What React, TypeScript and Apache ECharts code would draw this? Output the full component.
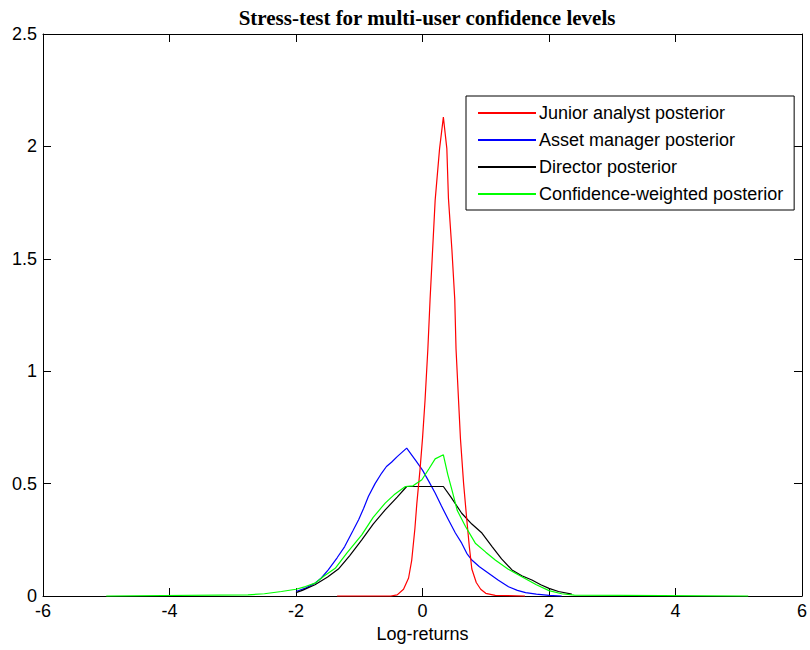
import React, { useEffect, useRef } from "react";
import * as echarts from "echarts";

const TITLE = "Stress-test for multi-user confidence levels";
const X_NAME = "Log-returns";
const SERIES_NAMES = [
  "Junior analyst posterior",
  "Asset manager posterior",
  "Director posterior",
  "Confidence-weighted posterior",
];
const SERIES_COLORS = ["#ff0000", "#0000ff", "#000000", "#00ff00"];

const juniorAnalyst: [number, number][] = [
  [-1.35, 0], [-0.5, 0], [-0.4, 0.005], [-0.3, 0.03], [-0.22, 0.08], [-0.17, 0.16],
  [-0.12, 0.3], [-0.09, 0.41], [-0.04, 0.56], [0.0, 0.7], [0.04, 0.87], [0.085, 1.1],
  [0.12, 1.32], [0.16, 1.54], [0.2, 1.76], [0.27, 1.99], [0.33, 2.13], [0.385, 1.99],
  [0.41, 1.77], [0.465, 1.54], [0.51, 1.32], [0.53, 1.1], [0.57, 0.87], [0.6, 0.7],
  [0.65, 0.5], [0.7, 0.34], [0.74, 0.22], [0.78, 0.12], [0.85, 0.06], [0.92, 0.03],
  [1.0, 0.012], [1.15, 0.003], [1.62, 0],
];

const assetManager: [number, number][] = [
  [-2.0, 0.02], [-1.85, 0.035], [-1.7, 0.057], [-1.6, 0.08], [-1.49, 0.116],
  [-1.35, 0.17], [-1.23, 0.22], [-1.1, 0.29], [-1.01, 0.339], [-0.93, 0.39],
  [-0.856, 0.443], [-0.75, 0.5], [-0.645, 0.547], [-0.57, 0.576], [-0.49, 0.595],
  [-0.4, 0.62], [-0.25, 0.658], [-0.1, 0.6], [0.0, 0.56], [0.1, 0.51], [0.2, 0.458],
  [0.3, 0.4], [0.41, 0.339], [0.52, 0.28], [0.62, 0.235], [0.7, 0.19], [0.78, 0.16],
  [0.9, 0.13], [1.05, 0.1], [1.2, 0.07], [1.36, 0.041], [1.5, 0.025], [1.63, 0.015],
  [1.8, 0.008], [2.0, 0.003], [2.2, 0],
];

const director: [number, number][] = [
  [-2.0, 0.015], [-1.9, 0.025], [-1.7, 0.05], [-1.5, 0.085], [-1.33, 0.12],
  [-1.15, 0.18], [-0.96, 0.25], [-0.78, 0.32], [-0.59, 0.383], [-0.4, 0.44],
  [-0.25, 0.487], [0.33, 0.487], [0.45, 0.44], [0.62, 0.368], [0.78, 0.32],
  [0.94, 0.28], [1.1, 0.22], [1.25, 0.165], [1.415, 0.116], [1.57, 0.09],
  [1.73, 0.071], [1.87, 0.05], [2.0, 0.034], [2.15, 0.02], [2.36, 0.008],
];

const confidenceWeighted: [number, number][] = [
  [-5.0, 0], [-2.76, 0.005], [-2.5, 0.01], [-2.23, 0.02], [-2.0, 0.03], [-1.85, 0.042],
  [-1.7, 0.057], [-1.55, 0.09], [-1.38, 0.123], [-1.2, 0.19], [-0.96, 0.272],
  [-0.78, 0.35], [-0.59, 0.413], [-0.45, 0.45], [-0.27, 0.487], [-0.15, 0.49],
  [-0.01, 0.517], [0.1, 0.565], [0.2, 0.61], [0.33, 0.628], [0.4, 0.54],
  [0.465, 0.472], [0.55, 0.38], [0.68, 0.309], [0.835, 0.235], [1.0, 0.195],
  [1.15, 0.16], [1.35, 0.12], [1.57, 0.086], [1.8, 0.05], [2.0, 0.024], [2.2, 0.01],
  [2.4, 0.004], [5.15, 0],
];

const SERIES_DATA = [juniorAnalyst, assetManager, director, confidenceWeighted];
// drawing order (later on top)
const DRAW_ORDER = [1, 2, 0, 3];

const X_MIN = -6, X_MAX = 6, X_STEP = 2;
const Y_MIN = 0, Y_MAX = 2.5, Y_STEP = 0.5;

const FONT = "'Liberation Sans', Arial, sans-serif";

export default function App() {
  const ref = useRef<HTMLDivElement>(null);
  useEffect(() => {
    if (!ref.current) return;
    const chart = echarts.init(ref.current, null, { renderer: "svg" });
    const axisLine = { show: true, onZero: false, lineStyle: { color: "#000", width: 1 } };
    const axisTick = { show: true, inside: true, length: 8, lineStyle: { color: "#000", width: 1 } };
    const label = { color: "#000", fontFamily: FONT, fontSize: 18 };
    chart.setOption({
      animation: false,
      backgroundColor: "#fff",
      title: {
        text: TITLE,
        left: 422,
        textAlign: "center",
        top: 2,
        textStyle: { fontFamily: "'Liberation Serif', 'Times New Roman', serif", fontWeight: "bold", fontSize: 21, color: "#000" },
      },
      grid: { left: 43, right: 8, top: 34, bottom: 54, containLabel: false },
      legend: {
        data: SERIES_NAMES,
        orient: "vertical",
        left: 466,
        top: 96,
        padding: [8, 11, 7, 11],
        itemWidth: 58,
        itemHeight: 18,
        itemGap: 9,
        itemStyle: { opacity: 0 },
        borderColor: "#000",
        borderWidth: 1,
        borderRadius: 0,
        backgroundColor: "#fff",
        textStyle: { ...label, lineHeight: 18, padding: [0, 0, 0, -2] },
      },
      xAxis: [
        {
          type: "value", min: X_MIN, max: X_MAX, interval: X_STEP, position: "bottom",
          axisLine, axisTick, splitLine: { show: false },
          axisLabel: { ...label, margin: 6 },
          name: X_NAME, nameLocation: "middle", nameGap: 29,
          nameTextStyle: { ...label },
        },
        {
          type: "value", min: X_MIN, max: X_MAX, interval: X_STEP, position: "top",
          axisLine, axisTick, splitLine: { show: false }, axisLabel: { show: false },
        },
      ],
      yAxis: [
        {
          type: "value", min: Y_MIN, max: Y_MAX, interval: Y_STEP, position: "left",
          axisLine, axisTick, splitLine: { show: false },
          axisLabel: { ...label, margin: 6 },
        },
        {
          type: "value", min: Y_MIN, max: Y_MAX, interval: Y_STEP, position: "right",
          axisLine, axisTick, splitLine: { show: false }, axisLabel: { show: false },
        },
      ],
      series: DRAW_ORDER.map((i) => ({
        name: SERIES_NAMES[i],
        type: "line",
        xAxisIndex: 0,
        yAxisIndex: 0,
        data: SERIES_DATA[i],
        symbol: "none",
        clip: false,
        color: SERIES_COLORS[i],
        lineStyle: { color: SERIES_COLORS[i], width: 1.2 },
      })),
    });
    return () => chart.dispose();
  }, []);
  return (
    <div
      ref={ref}
      style={{ position: "absolute", left: 0, top: 0, width: 810, height: 650, background: "#fff" }}
    />
  );
}
